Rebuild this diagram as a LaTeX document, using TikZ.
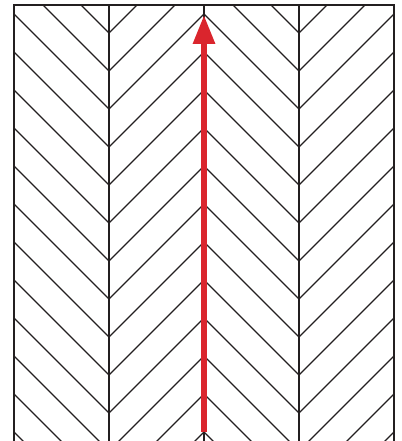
\documentclass[tikz,border=0pt]{standalone}
\usetikzlibrary{arrows.meta}
\definecolor{inkline}{HTML}{231F20}
\definecolor{arrowred}{RGB}{218,37,45}
\tikzset{
  pattern line/.style={draw=inkline, line width=1.1pt},
  frame line/.style={draw=inkline, line width=1.2pt},
  red arrow/.style={draw=arrowred, line width=6pt,
    -{Triangle[length=29pt,width=21pt,fill=arrowred]}}
}
\begin{document}
\begin{tikzpicture}[x=1pt,y=-1pt]
\useasboundingbox (0,0) rectangle (401,441);
% column 1: down-right
\begin{scope}
  \clip (14,5) rectangle (109,441);
  \foreach \k in {-3,...,11}
    \draw[pattern line] (14,14+38*\k) -- (109,109+38*\k);
\end{scope}
% column 2: up-right
\begin{scope}
  \clip (109,5) rectangle (204,441);
  \foreach \k in {-3,...,11}
    \draw[pattern line] (109,109+38*\k) -- (204,14+38*\k);
\end{scope}
% column 3: down-right
\begin{scope}
  \clip (204,5) rectangle (299,441);
  \foreach \k in {-3,...,11}
    \draw[pattern line] (204,14+38*\k) -- (299,109+38*\k);
\end{scope}
% column 4: up-right
\begin{scope}
  \clip (299,5) rectangle (394,441);
  \foreach \k in {-3,...,11}
    \draw[pattern line] (299,109+38*\k) -- (394,14+38*\k);
\end{scope}
% inner vertical lines
\foreach \x in {109,204,299}
  \draw[pattern line] (\x,5) -- (\x,441);
% frame
\draw[frame line] (14,441) -- (14,5) -- (394,5) -- (394,441);
% red arrow
\coordinate (arrowStart) at (204,432);
\coordinate (arrowEnd) at (204,15);
\draw[red arrow] (arrowStart) -- (arrowEnd);
\end{tikzpicture}
\end{document}
